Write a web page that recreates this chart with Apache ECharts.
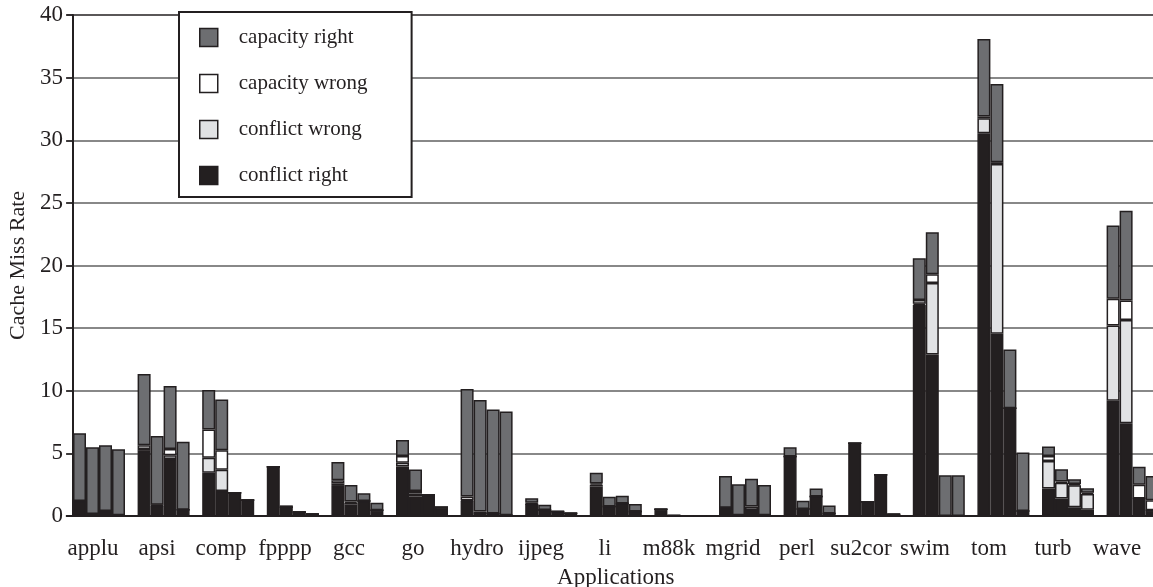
<!DOCTYPE html>
<html>
<head>
<meta charset="utf-8">
<script src="https://cdn.jsdelivr.net/npm/echarts@6/dist/echarts.min.js"></script>
<style>
  html, body { margin: 0; padding: 0; background: #fff; }
  #chart { width: 1153px; height: 587px; }
</style>
</head>
<body>
<div id="chart"></div>
<script>
// applications, 4 bars per application
var apps = ["applu", "apsi", "comp", "fpppp", "gcc", "go", "hydro", "ijpeg", "li",
  "m88k", "mgrid", "perl", "su2cor", "swim", "tom", "turb", "wave"];

// each row = one application, the 4 bars of its group
var conflictRight = [
  [1.2, 0.15, 0.4, 0.05], [5.2, 0.8, 4.55, 0.5], [3.45, 2.0, 1.85, 1.28],
  [3.94, 0.7, 0.32, 0.16], [2.4, 0.9, 1.2, 0.45], [3.95, 1.55, 1.7, 0.69],
  [1.2, 0.25, 0.2, 0.05], [0.95, 0.48, 0.35, 0.21], [2.35, 0.75, 1.0, 0.35],
  [0.53, 0.03, 0.02, 0.02], [0.65, 0.05, 0.5, 0.05], [4.75, 0.55, 1.55, 0.2],
  [5.8, 1.14, 3.3, 0.13], [16.85, 12.9, 0, 0], [30.55, 14.55, 8.6, 0.4],
  [2.2, 1.4, 0.7, 0.5], [9.2, 7.4, 1.4, 0.45]
];
var conflictWrong = [
  [0, 0, 0, 0], [0.15, 0.05, 0.3, 0], [1.2, 1.7, 0, 0],
  [0, 0, 0, 0], [0.2, 0.15, 0, 0], [0.3, 0.25, 0, 0],
  [0.05, 0, 0, 0], [0, 0, 0, 0], [0.15, 0, 0, 0],
  [0, 0, 0, 0], [0, 0, 0, 0], [0, 0, 0, 0],
  [0, 0, 0, 0], [0.1, 5.7, 0, 0], [1.2, 13.55, 0, 0],
  [2.2, 1.25, 1.75, 1.25], [6.0, 8.25, 0, 0]
];
var capacityWrong = [
  [0, 0, 0, 0], [0.3, 0.05, 0.5, 0], [2.25, 1.55, 0, 0],
  [0, 0, 0, 0], [0.25, 0.1, 0, 0], [0.55, 0.2, 0, 0],
  [0.3, 0.1, 0, 0], [0.1, 0, 0, 0], [0.1, 0, 0, 0],
  [0, 0, 0, 0], [0, 0, 0.25, 0], [0, 0, 0, 0],
  [0, 0, 0, 0], [0.3, 0.7, 0, 0], [0.15, 0.15, 0, 0],
  [0.4, 0.1, 0.1, 0.1], [2.15, 1.55, 1.1, 0.8]
];
var capacityRight = [
  [5.4, 5.33, 5.24, 5.27], [5.68, 5.48, 5.02, 5.43], [3.15, 4.06, 0, 0],
  [0, 0.15, 0, 0], [1.46, 1.32, 0.61, 0.61], [1.26, 1.72, 0, 0],
  [8.58, 8.91, 8.31, 8.3], [0.36, 0.42, 0, 0], [0.86, 0.79, 0.62, 0.61],
  [0, 0, 0, 0], [2.54, 2.48, 2.23, 2.42], [0.73, 0.67, 0.65, 0.63],
  [0, 0, 0, 0], [3.32, 3.35, 3.25, 3.25], [6.18, 6.24, 4.7, 4.66],
  [0.74, 0.98, 0.38, 0.36], [5.85, 7.18, 1.44, 1.94]
];

var legendOrder = ["capacity right", "capacity wrong", "conflict wrong", "conflict right"];

var FONT = "Liberation Serif";
var EDGE = "#231f20";

var parts = [
  { name: "conflict right", rows: conflictRight, color: "#231f20" },
  { name: "conflict wrong", rows: conflictWrong, color: "#e1e2e4" },
  { name: "capacity wrong", rows: capacityWrong, color: "#ffffff" },
  { name: "capacity right", rows: capacityRight, color: "#6d6e71" }
];

var series = [];
for (var b = 0; b < 4; b++) {
  parts.forEach(function(p) {
    series.push({
      name: p.name,
      type: "bar",
      stack: "bar" + b,
      xAxisIndex: 0,
      yAxisIndex: 0,
      barWidth: 13,
      barGap: "0%",
      data: p.rows.map(function(r) { return r[b]; }),
      itemStyle: { color: p.color, borderColor: EDGE, borderWidth: 1.5 }
    });
  });
}

var gridColors = ["#606060", "#606060", "#606060", "#606060", "#606060",
  "#606060", "#606060", "#606060", "#231f20"];

var chart = echarts.init(document.getElementById("chart"));
chart.setOption({
  animation: false,
  backgroundColor: "#fff",
  grid: [
    { left: 66.7, width: 1098.2, top: 15, bottom: 71, outerBoundsMode: "none" },
    { left: 61, width: 1088, top: 15, bottom: 71, outerBoundsMode: "none" }
  ],
  legend: {
    data: legendOrder,
    orient: "vertical",
    left: 179,
    top: 12,
    padding: [15, 44, 11, 20],
    itemWidth: 18,
    itemHeight: 18,
    itemGap: 25,
    icon: "rect",
    backgroundColor: "#fff",
    borderColor: "#231f20",
    borderWidth: 2,
    borderRadius: 0,
    itemStyle: { borderColor: EDGE, borderWidth: 1.5 },
    textStyle: { fontFamily: FONT, fontSize: 21, color: "#231f20", lineHeight: 18, padding: [0, 0, 0, 16] }
  },
  xAxis: [
    {
      type: "category",
      gridIndex: 0,
      data: apps,
      name: "Applications",
      nameLocation: "middle",
      nameGap: 50,
      nameTextStyle: { fontFamily: FONT, fontSize: 23, color: "#231f20" },
      axisLine: { lineStyle: { color: "#231f20", width: 2 } },
      axisTick: { show: false },
      axisLabel: { show: false }
    },
    {
      type: "category",
      gridIndex: 1,
      data: apps,
      axisLine: { show: false },
      axisTick: { show: false },
      axisLabel: { interval: 0, margin: 21, fontFamily: FONT, fontSize: 23, color: "#231f20" }
    }
  ],
  yAxis: [
    {
      type: "value",
      gridIndex: 0,
      min: 0,
      max: 40,
      interval: 5,
      offset: -6.3,
      name: "Cache Miss Rate",
      nameLocation: "middle",
      nameGap: 43,
      nameTextStyle: { fontFamily: FONT, fontSize: 22, color: "#231f20" },
      axisLine: { show: true, lineStyle: { color: "#231f20", width: 2 } },
      axisTick: { show: true, length: 7, lineStyle: { color: "#231f20", width: 1.5 } },
      axisLabel: { margin: 10, fontFamily: FONT, fontSize: 23, color: "#231f20" },
      splitLine: { show: true, lineStyle: { color: gridColors, width: 1.5 } }
    },
    {
      type: "value",
      gridIndex: 1,
      min: 0,
      max: 40,
      show: false
    }
  ],
  series: series
});
</script>
</body>
</html>
